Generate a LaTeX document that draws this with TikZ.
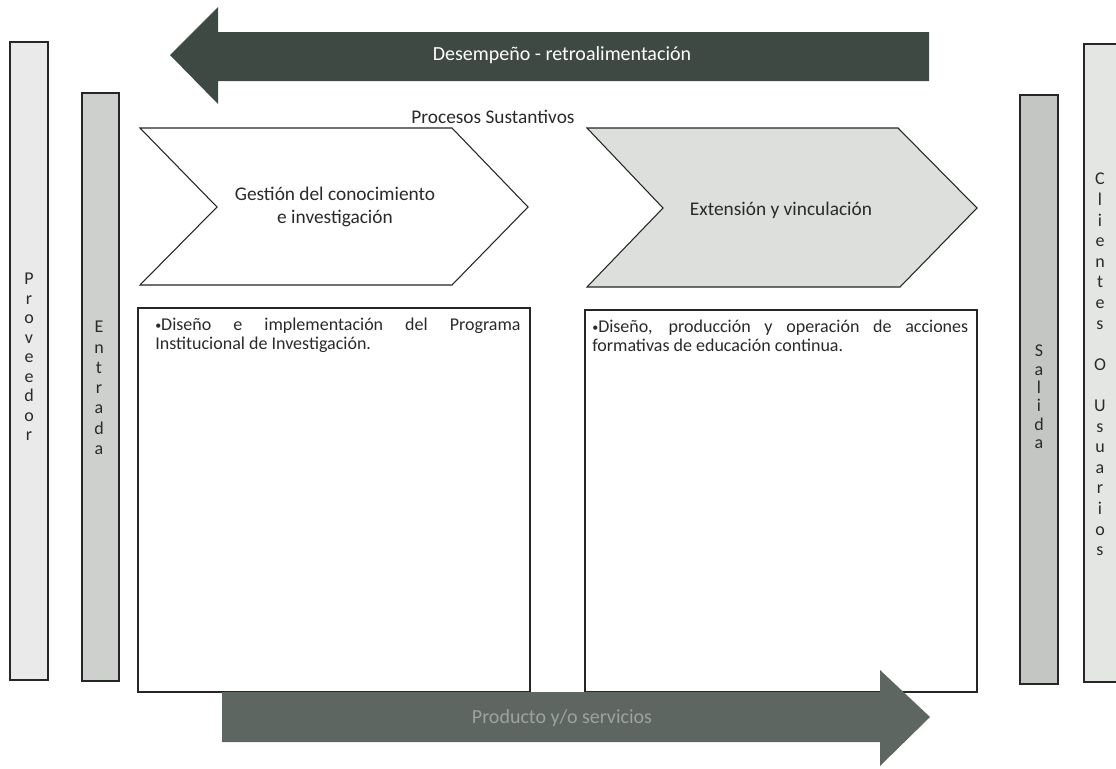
\documentclass[tikz,border=0pt]{standalone}
\usepackage{fontspec}
\setmainfont{Carlito}
\hyphenpenalty=10000
\exhyphenpenalty=10000
\tolerance=10000
\definecolor{provfill}{HTML}{E9EAE9}
\definecolor{entfill}{HTML}{CDD0CD}
\definecolor{salfill}{HTML}{C4C6C4}
\definecolor{clifill}{HTML}{E4E6E4}
\definecolor{chevfill}{HTML}{DDDFDD}
\definecolor{toparrow}{HTML}{3E4944}
\definecolor{botarrow}{HTML}{5D6660}
\definecolor{bottext}{HTML}{9DA39E}
\definecolor{inkgray}{HTML}{2A2A2A}
\newcommand{\smallbul}{{\fontsize{9}{9}\selectfont\raisebox{0.12em}{•}}}
\begin{document}
\begin{tikzpicture}[x=0.75pt,y=-0.75pt,
  outline/.style={draw=black!85, line width=0.8pt},
  vlet/.style={align=center, anchor=north, inner sep=0pt, text=inkgray},
  chevtext/.style={align=center, inner sep=0pt, text=inkgray, font=\fontsize{14.5}{17}\selectfont},
  boxtext/.style={align=justify, anchor=north west, inner sep=0pt, text=inkgray, font=\fontsize{13.5}{14.25}\selectfont},
  arrowtext/.style={inner sep=0pt, font=\fontsize{15}{15}\selectfont}]
\useasboundingbox (0,0) rectangle (1116,768);

% Side bars
\draw[outline, fill=provfill] (10,42) rectangle (48,680);
\node[vlet, font=\fontsize{13.5}{14.6}\selectfont] (prov) at (29,273) {P\\r\\o\\v\\e\\e\\d\\o\\r};
\draw[outline, fill=entfill] (82,93) rectangle (119,681);
\node[vlet, font=\fontsize{13.5}{15.2}\selectfont] (ent) at (99,321) {E\\n\\t\\r\\a\\d\\a};
\draw[outline, fill=salfill] (1020,95) rectangle (1058,684);
\node[vlet, font=\fontsize{13.5}{13.7}\selectfont] (sal) at (1039,345) {S\\a\\l\\i\\d\\a};
\draw[outline, fill=clifill] (1084,44) rectangle (1122,682);
\node[vlet, font=\fontsize{13.5}{15.45}\selectfont] (cli) at (1100,173) {C\\l\\i\\e\\n\\t\\e\\s\\[15.45pt]O\\[15.45pt]U\\s\\u\\a\\r\\i\\o\\s};

% Top feedback arrow
\draw[fill=toparrow, draw=none] (170,55) -- (218,7) -- (218,32) -- (929,32) -- (929,81) -- (218,81) -- (218,104) -- cycle;
\node[arrowtext, text=white] (desem) at (562,55) {Desempeño - retroalimentación};

% Title
\node[inner sep=0pt, text=inkgray, font=\fontsize{14.5}{14.5}\selectfont] (proc) at (493,117) {Procesos Sustantivos};

% Chevrons
\draw[outline, fill=white] (140,128) -- (452,128) -- (528,207) -- (452,285) -- (140,285) -- (217,207) -- cycle;
\node[chevtext] (gest) at (335,207) {Gestión del conocimiento\\e investigación};
\draw[outline, fill=chevfill] (587,128) -- (898,128) -- (977,208) -- (900,287) -- (587,287) -- (663,208) -- cycle;
\node[chevtext] (ext) at (781,210) {Extensión y vinculación};

% Content boxes
\draw[outline, fill=white] (138,308) rectangle (530,692);
\node[boxtext, text width=274pt] (t1) at (155,318) {\smallbul Diseño e implementación del Programa Institucional de Investigación.};
\draw[outline, fill=white] (585,310) rectangle (977,692);
\node[boxtext, text width=282pt] (t2) at (592,320) {\smallbul Diseño, producción y operación de acciones formativas de educación continua.};

% Bottom product arrow
\draw[fill=botarrow, draw=none] (222,692) -- (880,692) -- (880,670) -- (930,717) -- (880,766) -- (880,742) -- (222,742) -- cycle;
\node[arrowtext, text=bottext] (prod) at (562,718) {Producto y/o servicios};
\end{tikzpicture}
\end{document}
